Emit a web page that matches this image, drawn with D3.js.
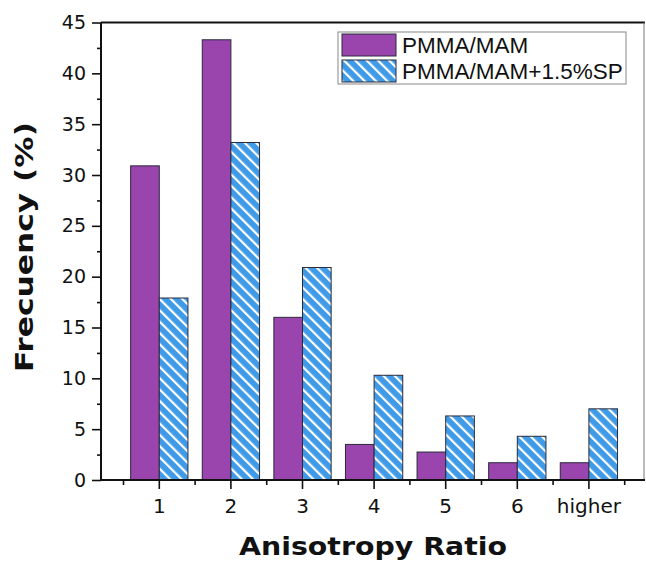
<!DOCTYPE html>
<html>
<head>
<meta charset="utf-8">
<script src="https://cdn.jsdelivr.net/npm/d3@7"></script>
<style>
  body { margin: 0; background: #fff; }
  svg { display: block; }
</style>
</head>
<body>
<div id="chart"></div>
<script>
var svgWidth = 646;
var svgHeight = 563;

// data
var categories = ["1", "2", "3", "4", "5", "6", "higher"];
var seriesNames = ["PMMA/MAM", "PMMA/MAM+1.5%SP"];
var pmma = [30.9, 43.3, 16.0, 3.5, 2.75, 1.7, 1.7];
var pmmaSP = [17.9, 33.2, 20.9, 10.3, 6.3, 4.3, 7.0];
var yTicks = [0, 5, 10, 15, 20, 25, 30, 35, 40, 45];

var purple = "#9a44ae";
var blue = "#3f9be8";

var svg = d3.select("#chart")
  .append("svg")
  .attr("width", svgWidth)
  .attr("height", svgHeight);

// stripes for the second series
var defs = svg.append("defs");
var pat = defs.append("pattern")
  .attr("id", "stripes")
  .attr("patternUnits", "userSpaceOnUse")
  .attr("width", 8)
  .attr("height", 8)
  .attr("patternTransform", "rotate(-45)");
pat.append("rect")
  .attr("width", 8)
  .attr("height", 8)
  .attr("fill", blue);
pat.append("rect")
  .attr("x", 0)
  .attr("width", 2.2)
  .attr("height", 8)
  .attr("fill", "#fff");

// plot frame
var plotLeft = 101, plotRight = 645, plotTop = 22.5, plotBottom = 480;

var y = d3.scaleLinear()
  .domain([0, 45])
  .range([plotBottom, plotTop]);

var x = d3.scaleBand()
  .domain(categories)
  .range([123.5, 624.7])
  .paddingInner(0.2)
  .paddingOuter(0.1);

var xSub = d3.scaleBand()
  .domain(seriesNames)
  .range([0, x.bandwidth()]);

var rows = categories.map(function(c, i) {
  return { cat: c, values: [pmma[i], pmmaSP[i]] };
});

// bars
var groups = svg.selectAll(".grp")
  .data(rows)
  .enter()
  .append("g")
  .attr("class", "grp")
  .attr("transform", d => `translate(${x(d.cat)},0)`);

groups.selectAll("rect")
  .data(d => d.values.map((v, j) => ({ name: seriesNames[j], v: v, j: j })))
  .enter()
  .append("rect")
  .attr("x", d => xSub(d.name))
  .attr("y", d => y(d.v))
  .attr("width", xSub.bandwidth())
  .attr("height", d => y(0) - y(d.v))
  .attr("fill", d => d.j === 0 ? purple : "url(#stripes)")
  .attr("stroke", "#2a2a3a")
  .attr("stroke-width", 1);

// frame lines (top + right)
svg.append("line")
  .attr("x1", plotLeft).attr("x2", plotRight)
  .attr("y1", plotTop).attr("y2", plotTop)
  .attr("stroke", "#111").attr("stroke-width", 1.8);
svg.append("line")
  .attr("x1", plotRight - 1).attr("x2", plotRight - 1)
  .attr("y1", plotTop).attr("y2", plotBottom)
  .attr("stroke", "#777").attr("stroke-width", 1);

// y axis
var yAxis = svg.append("g")
  .attr("transform", `translate(${plotLeft},0)`)
  .call(d3.axisLeft(y).tickValues(yTicks).tickSize(9).tickPadding(6).tickSizeOuter(0));
yAxis.select(".domain").remove();
yAxis.selectAll("line").attr("stroke", "#111").attr("stroke-width", 1.6);
yAxis.selectAll("text")
  .attr("font-family", "DejaVu Sans")
  .attr("font-size", 19)
  .attr("fill", "#111");

var yMinor = svg.append("g")
  .attr("transform", `translate(${plotLeft},0)`)
  .call(d3.axisLeft(y).tickValues(d3.range(2.5, 45, 5)).tickSize(4).tickFormat(""));
yMinor.select(".domain").remove();
yMinor.selectAll("line").attr("stroke", "#111").attr("stroke-width", 1.6);

// x axis
var xAxis = svg.append("g")
  .attr("transform", `translate(0,${plotBottom})`)
  .call(d3.axisBottom(x).tickSize(9).tickPadding(10).tickSizeOuter(0));
xAxis.select(".domain").remove();
xAxis.selectAll("line").attr("stroke", "#111").attr("stroke-width", 1.6);
xAxis.selectAll("text")
  .attr("font-family", "DejaVu Sans")
  .attr("font-size", 20)
  .attr("fill", "#111");

// minor x ticks at the group boundaries
var bounds = categories.map(c => x(c) + x.bandwidth() / 2 - x.step() / 2);
bounds.push(x(categories[categories.length - 1]) + x.bandwidth() / 2 + x.step() / 2);
svg.append("g")
  .selectAll("line")
  .data(bounds)
  .enter()
  .append("line")
  .attr("x1", d => d).attr("x2", d => d)
  .attr("y1", plotBottom).attr("y2", plotBottom + 5)
  .attr("stroke", "#111").attr("stroke-width", 1.6);

// axis lines
svg.append("line")
  .attr("x1", plotLeft).attr("x2", plotLeft)
  .attr("y1", plotTop).attr("y2", plotBottom)
  .attr("stroke", "#111").attr("stroke-width", 2);
svg.append("line")
  .attr("x1", plotLeft).attr("x2", plotRight)
  .attr("y1", plotBottom).attr("y2", plotBottom)
  .attr("stroke", "#111").attr("stroke-width", 2);

// axis titles
svg.append("text")
  .attr("x", 373)
  .attr("y", 555)
  .attr("text-anchor", "middle")
  .attr("font-family", "DejaVu Sans")
  .attr("font-weight", "bold")
  .attr("font-size", 25)
  .attr("textLength", 268)
  .attr("lengthAdjust", "spacingAndGlyphs")
  .attr("fill", "#111")
  .text("Anisotropy Ratio");

svg.append("text")
  .attr("transform", "translate(33,247) rotate(-90)")
  .attr("text-anchor", "middle")
  .attr("font-family", "DejaVu Sans")
  .attr("font-weight", "bold")
  .attr("font-size", 24)
  .attr("textLength", 250)
  .attr("lengthAdjust", "spacingAndGlyphs")
  .attr("fill", "#111")
  .text("Frecuency (%)");

// legend
var legend = svg.append("g");
legend.append("rect")
  .attr("x", 338).attr("y", 32)
  .attr("width", 288).attr("height", 52)
  .attr("fill", "#fff")
  .attr("stroke", "#888")
  .attr("stroke-width", 1);

var legendRows = legend.selectAll(".lrow")
  .data(seriesNames)
  .enter()
  .append("g")
  .attr("class", "lrow")
  .attr("transform", (d, i) => `translate(342,${34 + i * 26})`);

legendRows.append("rect")
  .attr("width", 54)
  .attr("height", 22)
  .attr("fill", (d, i) => i === 0 ? purple : "url(#stripes)")
  .attr("stroke", "#2a2a3a")
  .attr("stroke-width", 1);

legendRows.append("text")
  .attr("x", 60)
  .attr("y", 19)
  .attr("font-family", "Liberation Sans, Arial, sans-serif")
  .attr("font-size", 22.5)
  .attr("fill", "#111")
  .text(d => d);
</script>
</body>
</html>
